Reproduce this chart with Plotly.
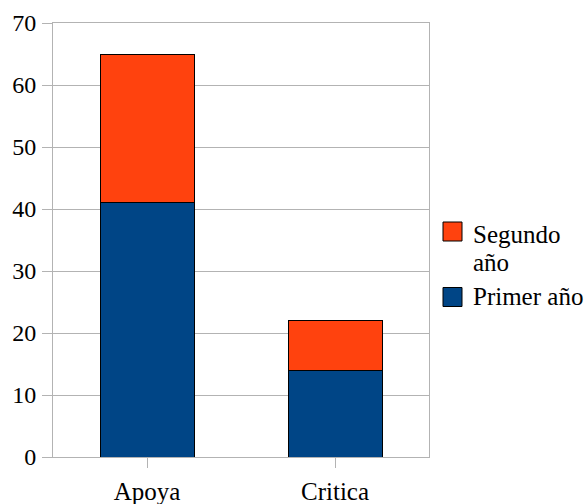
import plotly.graph_objects as go

# Survey responses by category and year
categories = ["Apoya", "Critica"]
primer_ano = [41, 14]
segundo_ano = [24, 8]
series_names = ["Primer año", "Segundo año"]
colors = ["#004586", "#ff420e"]
y_ticks = [0, 10, 20, 30, 40, 50, 60, 70]

FONT = "Liberation Serif"
GRID = "#b3b3b3"

fig = go.Figure()
for name, vals, col in zip(series_names, [primer_ano, segundo_ano], colors):
    fig.add_trace(go.Bar(
        x=categories, y=vals, name=name,
        marker=dict(color=col, line=dict(color="#000000", width=1)),
        width=0.5, showlegend=False,
    ))

fig.update_layout(
    barmode="stack",
    width=586, height=504,
    margin=dict(l=53, r=157, t=23, b=47, autoexpand=False),
    paper_bgcolor="white", plot_bgcolor="white",
    font=dict(family=FONT, size=24, color="#000000"),
)
fig.update_xaxes(
    range=[-0.5, 1.5], showline=True, linecolor=GRID, linewidth=1, mirror=True,
    ticks="outside", ticklen=10, tickcolor=GRID, showgrid=False, automargin=False,
    tickfont=dict(family=FONT, size=25, color="#000000"), ticklabelstandoff=2,
)
fig.update_yaxes(
    range=[0, 70], tickvals=y_ticks, showline=True, linecolor=GRID, linewidth=1,
    mirror=True, ticks="outside", ticklen=10, tickcolor=GRID, automargin=False,
    showgrid=True, gridcolor=GRID, gridwidth=1, zeroline=False,
    tickfont=dict(family=FONT, size=24, color="#000000"), ticklabelstandoff=1,
)

def px_x(x):
    return (x - 53) / 376

def px_y(y):
    return (457 - y) / 434

# Legend drawn as swatches plus labels; the upper stack segment is listed first.
# Each legend label is wrapped by hand so the line spacing stays tight.
legend_rows = [
    (series_names[1].split(" "), colors[1], 231.5, [234.5, 262.5]),
    ([series_names[0]], colors[0], 297, [296]),
]
for lines, col, yc, text_ys in legend_rows:
    fig.add_shape(
        type="rect", xref="paper", yref="paper",
        x0=px_x(443), x1=px_x(462), y0=px_y(yc + 9.5), y1=px_y(yc - 9.5),
        fillcolor=col, line=dict(color="#000000", width=1),
    )
    for line, ty in zip(lines, text_ys):
        fig.add_annotation(
            xref="paper", yref="paper", x=px_x(471), y=px_y(ty),
            text=line, showarrow=False, xanchor="left", yanchor="middle",
            font=dict(family=FONT, size=25, color="#000000"),
        )

fig.write_html("out.html")
